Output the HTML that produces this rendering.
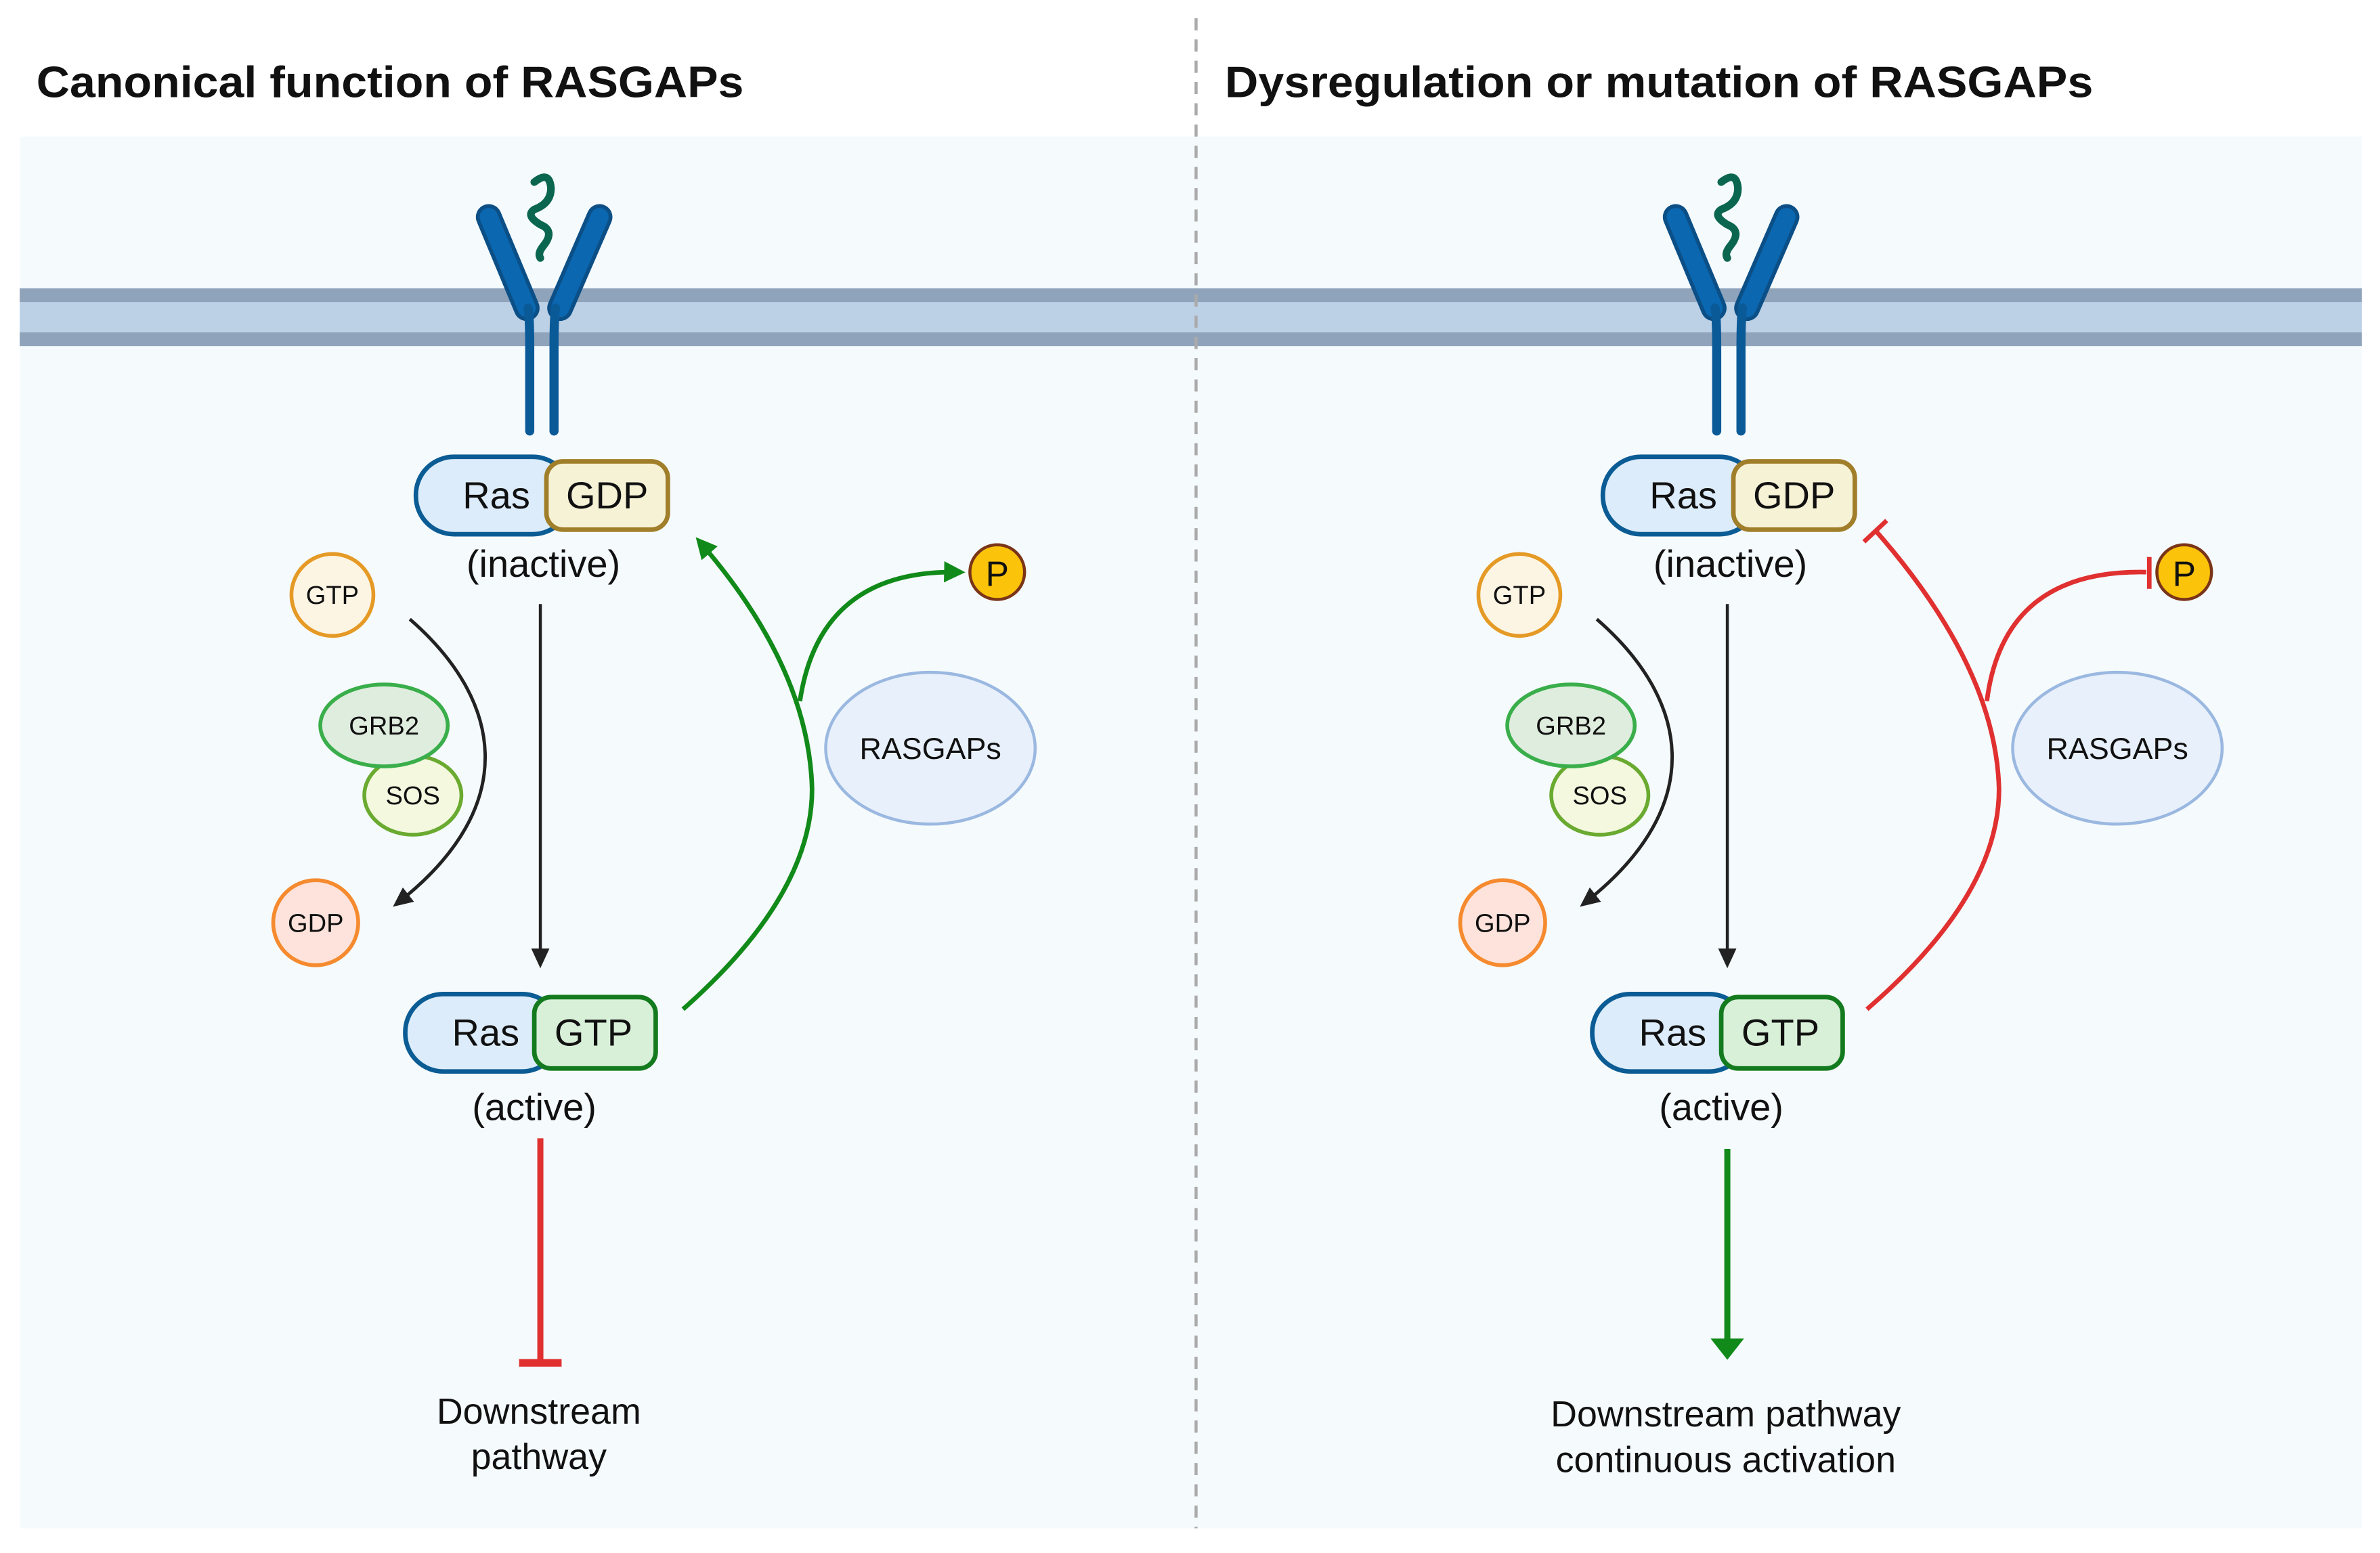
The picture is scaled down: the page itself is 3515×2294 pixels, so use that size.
<!DOCTYPE html>
<html><head><meta charset="utf-8"><style>
html,body{margin:0;padding:0;background:#fff;}
svg{display:block;}
text{font-family:"Liberation Sans",sans-serif;fill:#111;}
</style></head><body>
<svg width="3515" height="2294" viewBox="0 0 1568 1023.3" preserveAspectRatio="none" xmlns="http://www.w3.org/2000/svg">
<defs>
<marker id="ab" markerWidth="14" markerHeight="14" refX="9" refY="7" orient="auto" markerUnits="userSpaceOnUse"><path d="M0,1 L13,7 L0,13 Z" fill="#222"/></marker>
<marker id="ag" markerWidth="16" markerHeight="16" refX="10" refY="8" orient="auto" markerUnits="userSpaceOnUse"><path d="M0,1 L14,8 L0,15 Z" fill="#118a1a"/></marker>
<g id="common">
  <line x1="322" y1="143" x2="347" y2="203" stroke="#0b4f86" stroke-width="17" stroke-linecap="round"/>
  <line x1="322" y1="143" x2="347" y2="203" stroke="#0a67b0" stroke-width="12" stroke-linecap="round"/>
  <line x1="395" y1="143" x2="369" y2="203" stroke="#0b4f86" stroke-width="17" stroke-linecap="round"/>
  <line x1="395" y1="143" x2="369" y2="203" stroke="#0a67b0" stroke-width="12" stroke-linecap="round"/>
  <path d="M348,203 Q349,210 349,230 L349,284 M366,203 Q365,210 365,230 L365,284" stroke="#0b5a98" stroke-width="6" fill="none" stroke-linecap="round"/>
  <path d="M352,120 Q362,112 363,124 Q363,134 352,138 Q346,142 356,148 Q366,152 358,162 Q354,167 356,170" stroke="#0b6650" stroke-width="5" fill="none" stroke-linecap="round"/>
  <rect x="274" y="301" width="102" height="51" rx="25" fill="#dcecfa" stroke="#0b5c94" stroke-width="3"/>
  <rect x="360" y="304" width="80" height="45" rx="11" fill="#f6f2d6" stroke="#a07e2a" stroke-width="3"/>
  <text x="327" y="335" font-size="25" text-anchor="middle">Ras</text>
  <text x="400" y="335" font-size="25" text-anchor="middle">GDP</text>
  <text x="358" y="380" font-size="25" text-anchor="middle">(inactive)</text>
  <circle cx="219" cy="392" r="27" fill="#fdf5e4" stroke="#e59a26" stroke-width="2.5"/>
  <text x="219" y="398" font-size="17" text-anchor="middle">GTP</text>
  <circle cx="208" cy="608" r="28" fill="#fde3dc" stroke="#f58a2e" stroke-width="2.5"/>
  <text x="208" y="614" font-size="17" text-anchor="middle">GDP</text>
  <ellipse cx="272" cy="524" rx="32" ry="26" fill="#f3f8df" stroke="#6aaa30" stroke-width="2.5"/>
  <text x="272" y="530" font-size="17" text-anchor="middle">SOS</text>
  <ellipse cx="253" cy="478" rx="42" ry="27" fill="#dfeddf" stroke="#3aae4a" stroke-width="2.5"/>
  <text x="253" y="484" font-size="17" text-anchor="middle">GRB2</text>
  <path d="M270,408 C330,460 345,530 262,595" stroke="#222" stroke-width="2.2" fill="none" marker-end="url(#ab)"/>
  <line x1="356" y1="398" x2="356" y2="634" stroke="#222" stroke-width="2" marker-end="url(#ab)"/>
  <rect x="267" y="655" width="102" height="51" rx="25" fill="#dcecfa" stroke="#0b5c94" stroke-width="3"/>
  <rect x="352" y="657" width="80" height="47" rx="11" fill="#d8f0d8" stroke="#137a1e" stroke-width="3"/>
  <text x="320" y="689" font-size="25" text-anchor="middle">Ras</text>
  <text x="391" y="689" font-size="25" text-anchor="middle">GTP</text>
  <text x="352" y="738" font-size="25" text-anchor="middle">(active)</text>
  <circle cx="657" cy="377" r="18" fill="#fbc30a" stroke="#7a3418" stroke-width="2"/>
  <text x="657" y="386" font-size="23" text-anchor="middle">P</text>
  <ellipse cx="613" cy="493" rx="69" ry="50" fill="#e8f0fb" stroke="#9ab8e0" stroke-width="2"/>
  <text x="613" y="500" font-size="20" text-anchor="middle">RASGAPs</text>
</g>
</defs>
<rect x="0" y="0" width="1568" height="1024" fill="#fff"/>
<rect x="13" y="90" width="1543" height="917" fill="#f5fafd"/>
<rect x="13" y="190" width="1543" height="38" fill="#bcd0e6"/>
<rect x="13" y="190" width="1543" height="9" fill="#8fa3bb"/>
<rect x="13" y="219" width="1543" height="9" fill="#8fa3bb"/>
<line x1="788" y1="12" x2="788" y2="1007" stroke="#aaa" stroke-width="2" stroke-dasharray="8,6"/>
<text x="24" y="64" font-size="29" font-weight="bold" textLength="466" lengthAdjust="spacingAndGlyphs">Canonical function of RASGAPs</text>
<text x="807" y="64" font-size="29" font-weight="bold" textLength="572" lengthAdjust="spacingAndGlyphs">Dysregulation or mutation of RASGAPs</text>
<use href="#common"/>
<use href="#common" transform="translate(782,0)"/>
<path d="M450,665 Q535,590 535,520 Q533,440 461,357" stroke="#118a1a" stroke-width="3" fill="none" marker-end="url(#ag)"/>
<path d="M527,462 Q540,375 632,377" stroke="#118a1a" stroke-width="3" fill="none" marker-end="url(#ag)"/>
<line x1="356" y1="750" x2="356" y2="897" stroke="#e03030" stroke-width="4"/>
<line x1="342" y1="898" x2="370" y2="898" stroke="#e03030" stroke-width="5"/>
<text x="355" y="938" font-size="24" text-anchor="middle">Downstream</text>
<text x="355" y="968" font-size="24" text-anchor="middle">pathway</text>
<path d="M1230,665 Q1317,590 1317,520 Q1315,440 1236,350" stroke="#e03030" stroke-width="3" fill="none"/>
<line x1="1228" y1="357" x2="1243" y2="343" stroke="#e03030" stroke-width="3"/>
<path d="M1309,462 Q1320,375 1414,377" stroke="#e03030" stroke-width="3" fill="none"/>
<line x1="1416" y1="367" x2="1416" y2="388" stroke="#e03030" stroke-width="3"/>
<line x1="1138" y1="757" x2="1138" y2="884" stroke="#118a1a" stroke-width="4"/>
<path d="M1127,882 L1149,882 L1138,896 Z" fill="#118a1a"/>
<text x="1137" y="940" font-size="24" text-anchor="middle">Downstream pathway</text>
<text x="1137" y="970" font-size="24" text-anchor="middle">continuous activation</text>
</svg>
</body></html>
